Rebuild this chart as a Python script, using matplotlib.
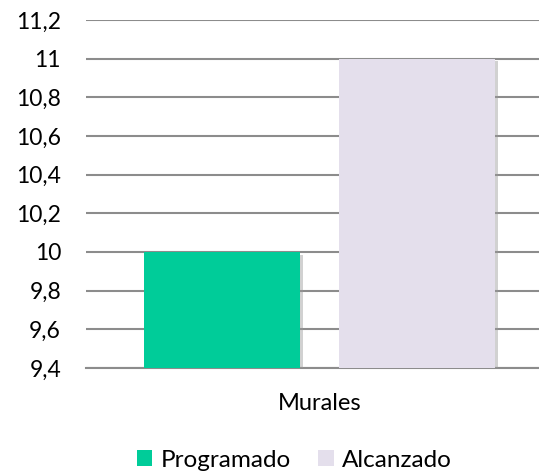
import matplotlib.pyplot as plt
import matplotlib.patheffects as pe
from matplotlib.patches import Patch
from matplotlib.ticker import FuncFormatter

plt.rcParams['font.family'] = ['Lato', 'DejaVu Sans']

categoria = 'Murales'
series = ['Programado', 'Alcanzado']
valores = [10, 11]
colores = ['#00CC99', '#E4DFEC']
y_ticks = [9.4, 9.6, 9.8, 10, 10.2, 10.4, 10.6, 10.8, 11, 11.2]

fig = plt.figure(figsize=(5.39, 4.73), dpi=100)
ax = fig.add_axes([0.1596, 0.222, 0.8664, 0.7357])

ancho = 0.334
desp = 0.209
base = y_ticks[0]
sombra = [pe.SimplePatchShadow(offset=(2, -2), shadow_rgbFace='#999999', alpha=0.45), pe.Normal()]
for i, (v, c) in enumerate(zip(valores, colores)):
    x = (i - 0.5) * 2 * desp
    b = ax.bar(x, v - base, bottom=base, width=ancho, color=c, zorder=3)
    for p in b:
        p.set_path_effects(sombra)

ax.set_xlim(-0.5, 0.5)
ax.set_ylim(y_ticks[0], y_ticks[-1])
ax.set_yticks(y_ticks)
ax.yaxis.set_major_formatter(FuncFormatter(lambda v, p: ('%g' % round(v, 1)).replace('.', ',')))
ax.grid(axis='y', color='#8c8c8c', linewidth=1.5, zorder=0)
ax.set_xticks([0])
ax.set_xticklabels([categoria])
for s in ['top', 'right', 'left']:
    ax.spines[s].set_visible(False)
ax.spines['bottom'].set_color('#8c8c8c')
ax.spines['bottom'].set_linewidth(1.5)
ax.tick_params(axis='y', length=0, labelsize=16.5, colors='black', pad=18)
ax.tick_params(axis='x', length=0, labelsize=17, colors='black', pad=18)

manejadores = [Patch(facecolor=c, label=s) for s, c in zip(series, colores)]
fig.legend(handles=manejadores, loc='center', bbox_to_anchor=(0.546, 0.027), ncol=2,
           frameon=False, fontsize=17.5, handlelength=0.65, handleheight=0.65,
           handletextpad=0.35, columnspacing=1.1)

fig.savefig('out.png', dpi=100)
